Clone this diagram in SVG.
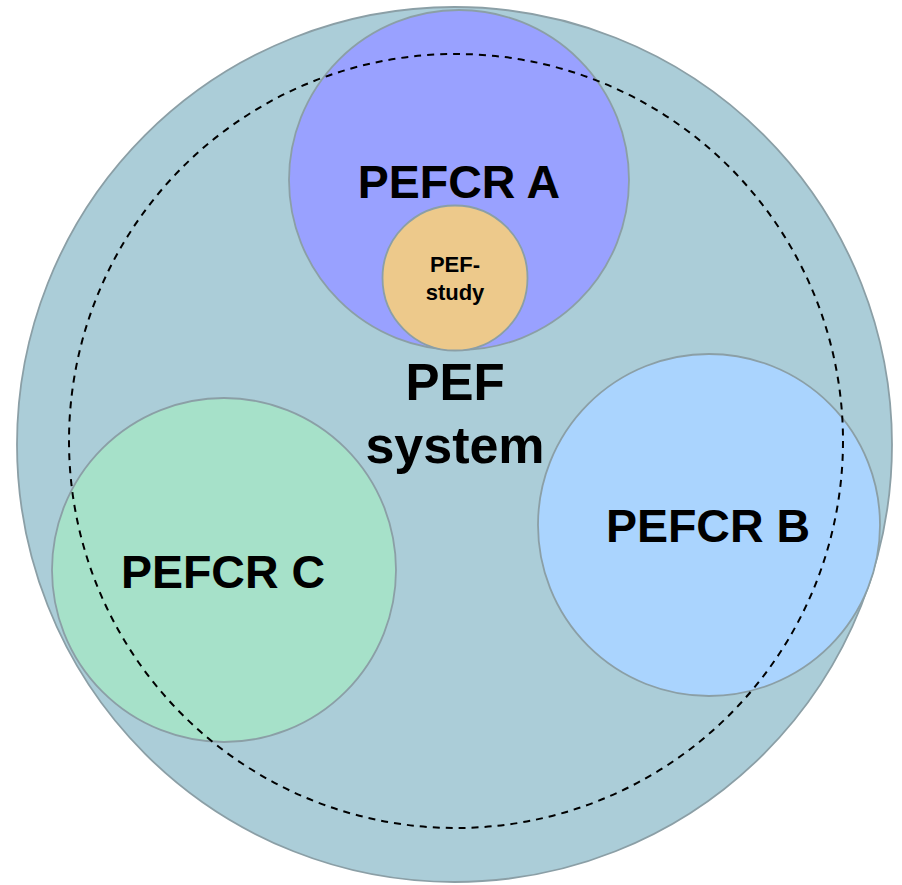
<svg xmlns="http://www.w3.org/2000/svg" width="902" height="885" viewBox="0 0 902 885">
  <style>
    .set { stroke: #8b9fa6; stroke-width: 1.8; }
    .lbl { font-family: "Liberation Sans", Arial, sans-serif; font-weight: bold; fill: #000; text-anchor: middle; }
  </style>
  <rect width="902" height="885" fill="#ffffff"/>
  <g id="pef-system">
    <circle class="set" cx="454.5" cy="444.5" r="437.5" fill="#abcdd8"/>
    <text class="lbl" x="455" y="400" font-size="51">PEF</text>
    <text class="lbl" x="455" y="463" font-size="52">system</text>
  </g>
  <g id="pefcr-a">
    <circle class="set" cx="459" cy="180" r="170" fill="#99a1ff"/>
    <text class="lbl" x="459" y="198" font-size="46.5">PEFCR A</text>
  </g>
  <g id="pef-study">
    <circle class="set" cx="455" cy="278" r="72.5" fill="#edc98b"/>
    <text class="lbl" x="455" y="272" font-size="22">PEF-</text>
    <text class="lbl" x="455" y="300" font-size="22">study</text>
  </g>
  <g id="pefcr-c">
    <circle class="set" cx="224" cy="570" r="172" fill="#a6e1c9"/>
    <text class="lbl" x="223" y="588" font-size="46.5">PEFCR C</text>
  </g>
  <g id="pefcr-b">
    <circle class="set" cx="709" cy="525" r="171" fill="#aad4fe"/>
    <text class="lbl" x="708" y="542" font-size="46.5">PEFCR B</text>
  </g>
  <g id="connectors">
    <circle cx="456" cy="441" r="387" fill="none" stroke="#000" stroke-width="2" stroke-dasharray="7 6"/>
  </g>
</svg>
